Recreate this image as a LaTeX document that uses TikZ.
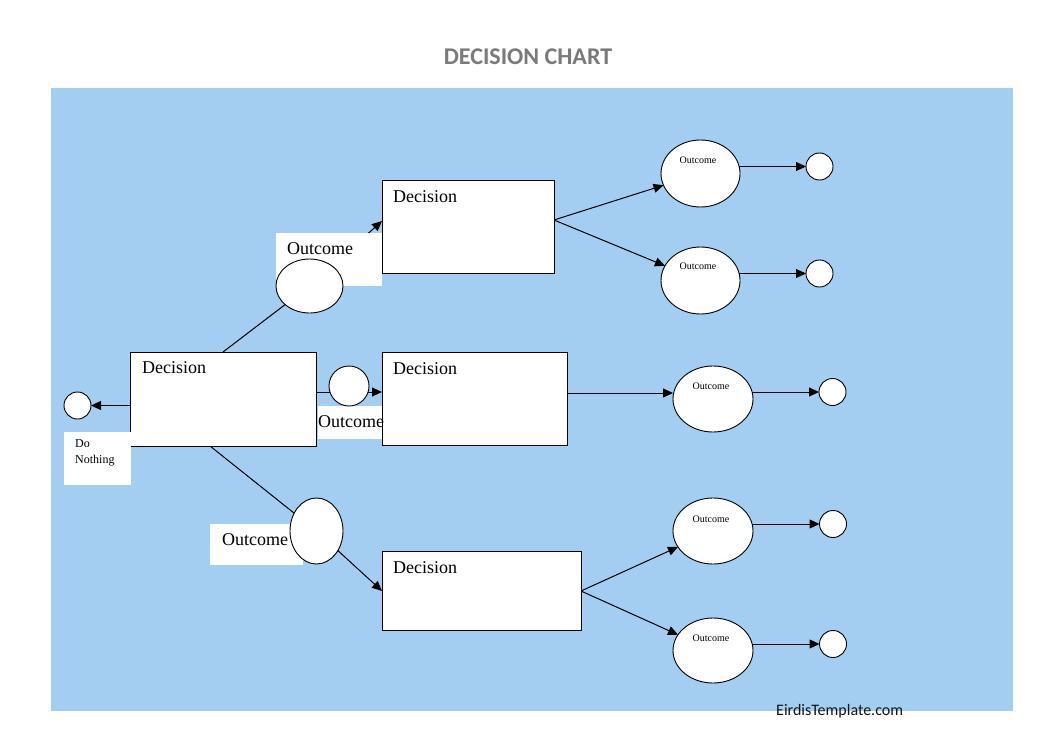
\documentclass[tikz,border=0pt]{standalone}
\usepackage{fontspec}
\setmainfont{Liberation Serif}
\newfontfamily\carlito{Carlito}
\usetikzlibrary{shapes.geometric,arrows.meta}
\pgfdeclarelayer{back}
\pgfdeclarelayer{mid}
\pgfsetlayers{back,mid,main}
\definecolor{bgblue}{RGB}{163,205,241}
\definecolor{titlegray}{RGB}{122,122,122}
\definecolor{footblack}{RGB}{20,20,20}
\begin{document}
\begin{tikzpicture}[x=1pt,y=-1pt,
  box/.style={draw=black,fill=white,line width=0.9pt,rectangle,inner sep=0pt,outer sep=0pt},
  lbl/.style={fill=white,rectangle,inner sep=0pt,outer sep=0pt},
  oval/.style={draw=black,fill=white,line width=0.9pt,ellipse,inner sep=0pt,outer sep=0pt},
  dot/.style={oval,minimum width=27pt,minimum height=27pt},
  conn/.style={line width=1pt,draw=black},
  arr/.style={conn,-{Triangle[length=10pt,width=9pt]}},
  big/.style={font=\fontsize{18}{21}\selectfont,inner sep=0pt,anchor=base west},
  small/.style={font=\fontsize{10}{12}\selectfont,inner sep=0pt,anchor=base},
  tiny/.style={font=\fontsize{12}{14}\selectfont,inner sep=0pt,anchor=base west},
]
\useasboundingbox (0,0) rectangle (1062,752);
\begin{pgfonlayer}{back}
  \fill[white] (0,0) rectangle (1062,752);
  \fill[bgblue] (51,88) rectangle (1013,711);
\end{pgfonlayer}

% title and footer
\node[font=\carlito\bfseries\fontsize{24}{28}\selectfont,text=titlegray,inner sep=0pt,anchor=base] (title) at (528,65) {DECISION CHART};
\node[font=\carlito\fontsize{16}{19}\selectfont,text=footblack,inner sep=0pt,anchor=base west] (foot) at (776,715) {EirdisTemplate.com};

% top outcome label (under box 1)
\node[lbl,minimum width=106pt,minimum height=53pt] (topLbl) at (329,259.5) {};

% decision boxes
\node[box,minimum width=186pt,minimum height=94pt] (d0) at (223.5,399) {};
\node[box,minimum width=172pt,minimum height=93pt] (b1) at (468,226.5) {};
\node[box,minimum width=185pt,minimum height=93pt] (b2) at (474.5,398.5) {};
\node[box,minimum width=199pt,minimum height=79pt] (b3) at (481.5,591) {};

% other labels
\node[lbl,minimum width=64pt,minimum height=33pt] (midLbl) at (350,422.5) {};
\node[lbl,minimum width=93pt,minimum height=41pt] (botLbl) at (256.5,544.5) {};
\node[lbl,minimum width=67pt,minimum height=53pt] (dnLbl) at (97.5,458.5) {};

% outcome ellipses on the left branch
\node[oval,minimum width=67pt,minimum height=54pt] (eTop) at (309.5,286) {};
\node[oval,minimum width=40pt,minimum height=40pt] (eMid) at (349,386) {};
\node[oval,minimum width=53pt,minimum height=66pt] (eBot) at (316.5,531) {};

% right outcome ellipses
\node[oval,minimum width=79pt,minimum height=67pt] (e1) at (700.5,173.5) {};
\node[oval,minimum width=79pt,minimum height=67pt] (e2) at (700.5,280.5) {};
\node[oval,minimum width=80pt,minimum height=66pt] (e3) at (713,399) {};
\node[oval,minimum width=80pt,minimum height=66pt] (e4) at (713,531) {};
\node[oval,minimum width=80pt,minimum height=65pt] (e5) at (713,650.5) {};

% end circles
\node[dot] (dn) at (77.5,405.5) {};
\node[dot] (c1) at (819.5,166.5) {};
\node[dot] (c2) at (819.5,273.5) {};
\node[dot] (c3) at (832.5,392) {};
\node[dot] (c4) at (833,524) {};
\node[dot] (c5) at (833,644) {};

% texts
\node[big] (t0) at (142,373) {Decision};
\node[big] (t1) at (393,202) {Decision};
\node[big] (t2) at (393,374) {Decision};
\node[big] (t3) at (393,573) {Decision};
\node[big] (o1) at (287,254) {Outcome};
\node[big] (o2) at (318,427) {Outcome};
\node[big] (o3) at (222,545) {Outcome};
\node[small] (s1) at (698,163) {Outcome};
\node[small] (s2) at (698,269) {Outcome};
\node[small] (s3) at (711,389) {Outcome};
\node[small] (s4) at (711,522) {Outcome};
\node[small] (s5) at (711,641) {Outcome};
\node[tiny] (do1) at (75,447) {Do};
\node[tiny] (do2) at (75,463) {Nothing};

% connectors
\begin{pgfonlayer}{mid}
  \draw[arr] ([yshift=-6.5pt]d0.west) -- (dn.east);
  \draw[conn] ([xshift=-0.5pt]d0.north) -- (eTop);
  \draw[arr] (eTop) -- ([yshift=5.5pt]b1.west);
  \draw[arr] ([yshift=7pt]d0.east) -- ([yshift=6.5pt]b2.west);
  \draw[conn] ([xshift=-13.5pt]d0.south) -- (eBot);
  \draw[arr] (eBot) -- (b3.west);
  \draw[arr] ([yshift=6.5pt]b1.east) -- (e1);
  \draw[arr] ([yshift=6.5pt]b1.east) -- (e2);
  \draw[arr] ([yshift=5.5pt]b2.east) -- ([yshift=6pt]e3.west);
  \draw[arr] (b3.east) -- (e4);
  \draw[arr] (b3.east) -- (e5);
  \draw[arr] (e1.center |- c1.west) -- (c1.west);
  \draw[arr] (e2.center |- c2.west) -- (c2.west);
  \draw[arr] (e3.center |- c3.west) -- (c3.west);
  \draw[arr] (e4.center |- c4.west) -- (c4.west);
  \draw[arr] (e5.center |- c5.west) -- (c5.west);
\end{pgfonlayer}
\end{tikzpicture}
\end{document}
